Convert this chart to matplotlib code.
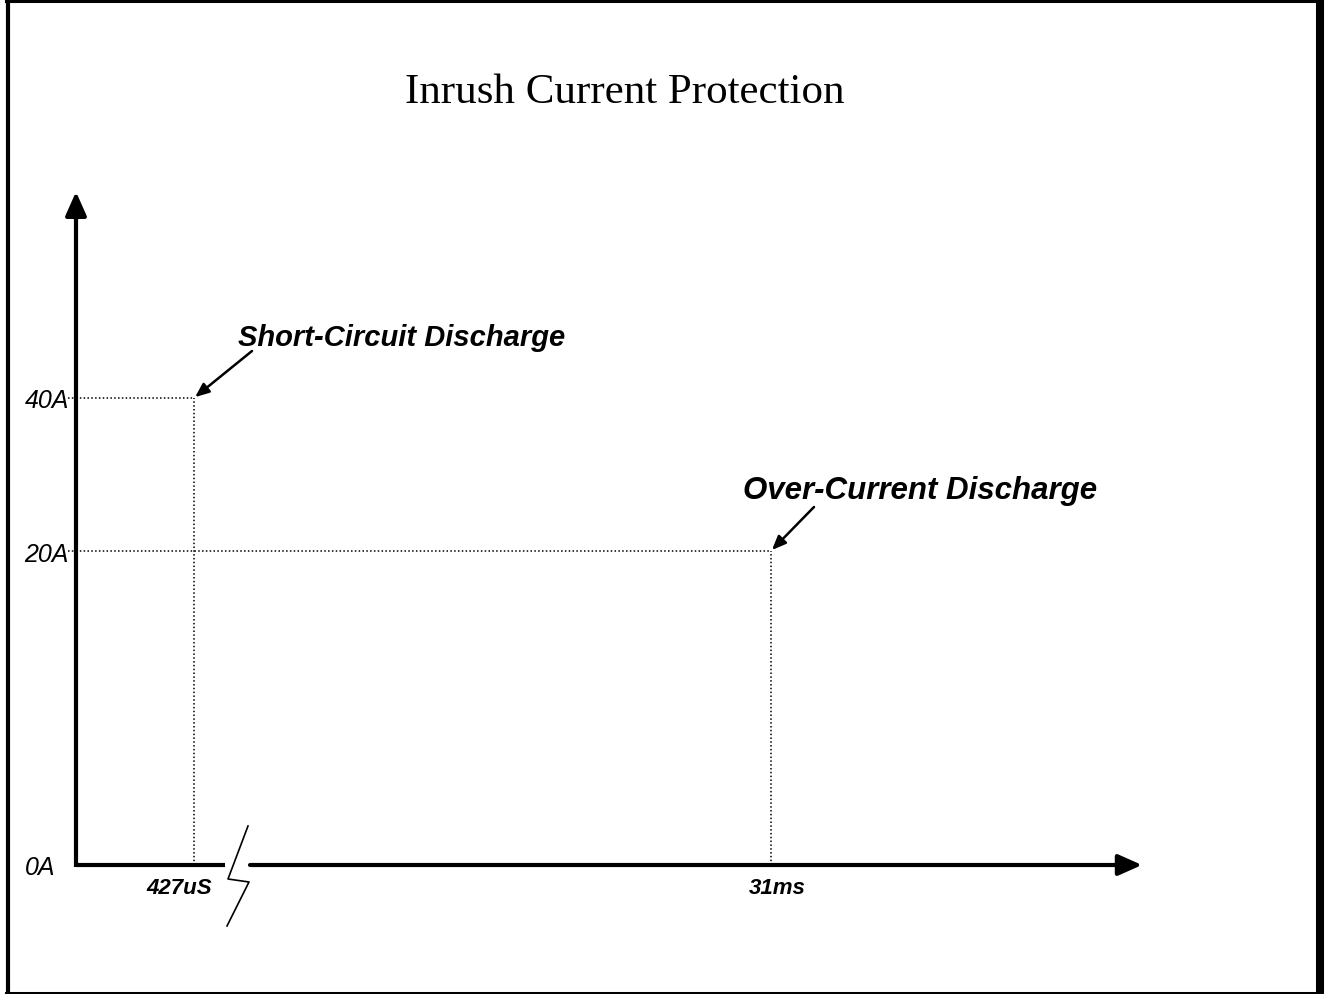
import matplotlib
matplotlib.use("Agg")
import matplotlib.pyplot as plt
from matplotlib.lines import Line2D
import numpy as np

# schematic values (time in ms, current in A)
t_levels = [0.427, 31.0]
t_labels = ["427uS", "31ms"]
i_levels = [40, 20]
i_ticks = [40, 20, 0]
i_tick_labels = ["40A", "20A", "0A"]
notes = ["Short-Circuit Discharge", "Over-Current Discharge"]

# the drawing is not to scale: piecewise axes (data knots -> pixel offsets)
x_knots, x_pix = [0, 0.427, 31.0, 50.0], [0, 118, 695, 1066]
y_knots, y_pix = [0, 20, 40, 67], [0, 314, 467, 676]

W, H = 1328, 995
fig = plt.figure(figsize=(W / 100, H / 100), dpi=100)
ax = fig.add_axes([76 / W, (H - 866) / H, 1066 / W, 676 / H])

ax.set_xscale("function", functions=(lambda v: np.interp(v, x_knots, x_pix),
                                     lambda v: np.interp(v, x_pix, x_knots)))
ax.set_yscale("function", functions=(lambda v: np.interp(v, y_knots, y_pix),
                                     lambda v: np.interp(v, y_pix, y_knots)))
ax.set_xlim(0, 50)
ax.set_ylim(0, 67)
for s in ax.spines.values():
    s.set_visible(False)
ax.set_xticks([])
ax.set_yticks(i_ticks, i_tick_labels)
ax.tick_params(axis="y", length=0, pad=37, labelsize=18)
for lab in ax.get_yticklabels():
    lab.set_horizontalalignment("left")
    lab.set_fontstyle("italic")
    lab.set_family("Liberation Sans")

# axes with arrows and a break on the time axis
brk0, brk1 = 149 / 1066, 174 / 1066
ax.plot([0, 0], [-0.003, 0.985], transform=ax.transAxes, color="black", lw=3,
        clip_on=False, solid_capstyle="butt")
ax.annotate("", xy=(0, 1.0), xytext=(0, 0.95), xycoords="axes fraction",
            arrowprops=dict(arrowstyle="-|>,head_length=0.9,head_width=0.4",
                            color="black", lw=3, mutation_scale=16))
ax.plot([0, brk0], [0, 0], transform=ax.transAxes, color="black", lw=3,
        clip_on=False, solid_capstyle="butt")
ax.annotate("", xy=(1.0, 0), xytext=(brk1, 0), xycoords="axes fraction",
            arrowprops=dict(arrowstyle="-|>,head_length=0.9,head_width=0.4",
                            color="black", lw=3, mutation_scale=16,
                            shrinkA=0, shrinkB=0))
zig_x = np.array([172, 152, 173, 151]) / 1066
zig_y = np.array([39, -14, -17, -61]) / 676
ax.plot(zig_x, zig_y, transform=ax.transAxes, color="black", lw=1.2, clip_on=False)

# dotted guide lines
dot = dict(color="black", lw=1.1, linestyle=(0, (1, 1.5)))
for t, i in zip(t_levels, i_levels):
    ax.plot([0, t], [i, i], clip_on=False, **dot)
    ax.plot([-8 / 1066, 0], [i, i], transform=ax.get_yaxis_transform(),
            clip_on=False, **dot)
    ax.plot([t, t], [0, i], clip_on=False, **dot)

# time labels
for t, lab, dx in zip(t_levels, t_labels, [-15, 6]):
    ax.annotate(lab, xy=(t, 0), xytext=(dx * 0.72, -16), textcoords="offset points",
                ha="center", va="center", fontsize=16, fontweight="bold",
                fontstyle="italic", family="Liberation Sans")

# callouts
for t, i, txt, fs, tdx, adx, ady in zip(t_levels, i_levels, notes, [21, 22.5],
                                          [44, -28], [58, 43], [47, 44]):
    ax.annotate(txt, xy=(t, i), xytext=(tdx * 0.72, 61 * 0.72),
                textcoords="offset points", ha="left", va="center",
                fontsize=fs, fontweight="bold", fontstyle="italic",
                family="Liberation Sans")
    ax.annotate("", xy=(t, i), xytext=(adx * 0.72, ady * 0.72),
                textcoords="offset points",
                arrowprops=dict(arrowstyle="-|>,head_length=0.6,head_width=0.25",
                                color="black", lw=1.8, mutation_scale=14,
                                shrinkA=0, shrinkB=1))

fig.text(625 / W, 1 - 103 / H, "Inrush Current Protection", ha="center",
         va="baseline", fontsize=31, family="Liberation Serif")

# page frame
fig.add_artist(Line2D([8 / W, 8 / W], [1 - 995 / H, 1], color="black", lw=3))
fig.add_artist(Line2D([6 / W, 1320 / W], [1 - 1.5 / H, 1 - 1.5 / H], color="black", lw=2.2))
fig.add_artist(Line2D([1320 / W, 1320 / W], [1 - 995 / H, 1 - 3 / H], color="black", lw=5.8))
fig.add_artist(Line2D([6 / W, 1320 / W], [1 - 993.5 / H, 1 - 993.5 / H], color="black", lw=2.2))

fig.savefig("out.png", dpi=100)
